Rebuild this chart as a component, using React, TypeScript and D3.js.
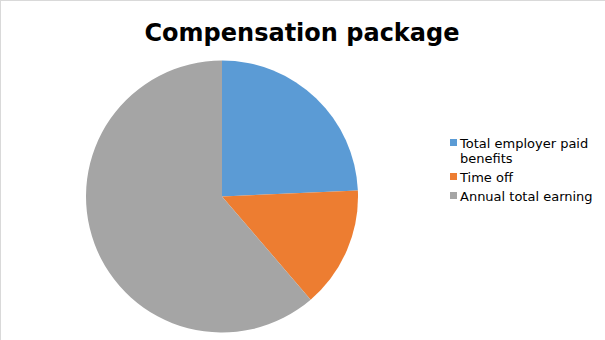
import React from "react";
import * as d3 from "d3";

const categories = ["Total employer paid benefits", "Time off", "Annual total earning"];
const values = [24.3, 14.4, 61.3];
const colors = ["#5B9BD5", "#ED7D31", "#A5A5A5"];
const legendLines = [["Total employer paid", "benefits"], ["Time off"], ["Annual total earning"]];
const title = "Compensation package";

export default function App() {
  const W = 605, H = 340;
  const cx = 222, cy = 196.5, r = 136;
  const pie = d3.pie<number>().sort(null).value((d) => d)(values);
  const arc = d3.arc<d3.PieArcDatum<number>>().innerRadius(0).outerRadius(r);
  const font = "DejaVu Sans, sans-serif";
  const legendY = [143, 177, 196];
  return (
    <svg width={W} height={H} style={{ position: "absolute", left: 0, top: 0 }} fontFamily={font}>
      <rect x={0} y={0} width={W} height={H} fill="#fff" />
      <line x1={0.5} y1={0} x2={0.5} y2={H} stroke="#d9d9d9" />
      <line x1={0} y1={0.5} x2={W} y2={0.5} stroke="#d9d9d9" />
      <text x={302} y={41} textAnchor="middle" fontSize={24} fontWeight="bold" fill="#000">{title}</text>
      <g transform={`translate(${cx},${cy})`}>
        {pie.map((p, i) => (
          <path key={categories[i]} d={arc(p) || ""} fill={colors[i]} />
        ))}
      </g>
      {categories.map((c, i) => (
        <g key={c}>
          <rect x={450} y={legendY[i] - 4} width={7} height={7} fill={colors[i]} />
          {legendLines[i].map((ln, j) => (
            <text key={j} x={460} y={legendY[i] + 4.5 + j * 15} fontSize={13} fill="#000">{ln}</text>
          ))}
        </g>
      ))}
    </svg>
  );
}
